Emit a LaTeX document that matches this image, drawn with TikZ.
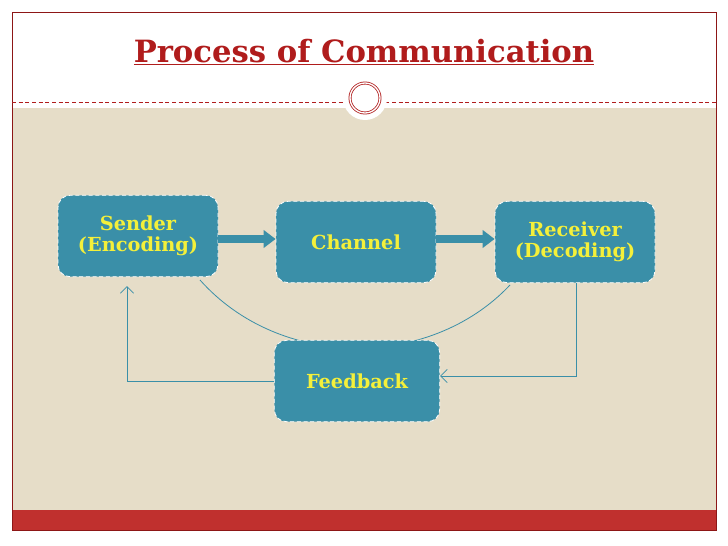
\documentclass[tikz,border=0pt]{standalone}
\usepackage{fontspec}
\setmainfont{DejaVu Serif}
\usetikzlibrary{arrows.meta,positioning}
\definecolor{slidered}{HTML}{B01C1C}
\definecolor{barred}{HTML}{C0302E}
\definecolor{beige}{HTML}{E6DDC8}
\definecolor{teal}{HTML}{3A8FA8}
\definecolor{textyellow}{HTML}{F4F03A}
\begin{document}
\begin{tikzpicture}[
    x=0.75pt, y=-0.75pt,
    stage/.style={rectangle, draw=white, densely dashed, line width=0.6pt, fill=teal, rounded corners=9pt, minimum width=120pt, minimum height=61pt, align=center, text=textyellow, font=\bfseries\fontsize{14.5}{15.5}\selectfont},
    blockarrow/.style={-{Triangle[length=9pt,width=13pt]}, line width=6pt, draw=teal},
    thinline/.style={draw=teal, line width=0.6pt}
]
\useasboundingbox (0,0) rectangle (728,546);
% slide frame
\fill[white] (0,0) rectangle (728,546);
\fill[beige] (12,108) rectangle (716,510);
\fill[barred] (12,510) rectangle (716,530);
\draw[slidered!80!black, line width=0.5pt] (12,12) rectangle (716,530);
\draw[slidered, densely dashed, line width=0.4pt] (12,102) -- (716,102);
\fill[white] (365,98) circle (22);
\draw[slidered, double=white, double distance=1pt, line width=0.6pt] (365,98) circle (15);
\node[text=slidered, font=\bfseries\fontsize{23}{26}\selectfont] (title) at (364,52) {\underline{Process of Communication}};

% curve behind the feedback box
\draw[thinline] (200,280) .. controls (280,370) and (430,370) .. (510,285);

% stages
\node[stage] (sender) at (138,236) {Sender\\(Encoding)};
\node[stage] (channel) at (356,242) {Channel};
\node[stage] (receiver) at (575,242) {Receiver\\(Decoding)};
\node[stage, minimum width=124pt] (feedback) at (357,381) {Feedback};

\coordinate (rcorner) at (576,376);
\coordinate (lcorner) at (127,381);

\draw[blockarrow] (sender.east |- 0,239) -- (channel.west |- 0,239);
\draw[blockarrow] (channel.east |- 0,239) -- (receiver.west |- 0,239);
\draw[thinline, -{Straight Barb[length=5pt]}] (receiver.south -| rcorner) -- (rcorner) -- (feedback.east |- rcorner);
\draw[thinline, -{Straight Barb[length=5pt]}] (feedback.west |- lcorner) -- (lcorner) -- (lcorner |- 0,286);
\end{tikzpicture}
\end{document}
